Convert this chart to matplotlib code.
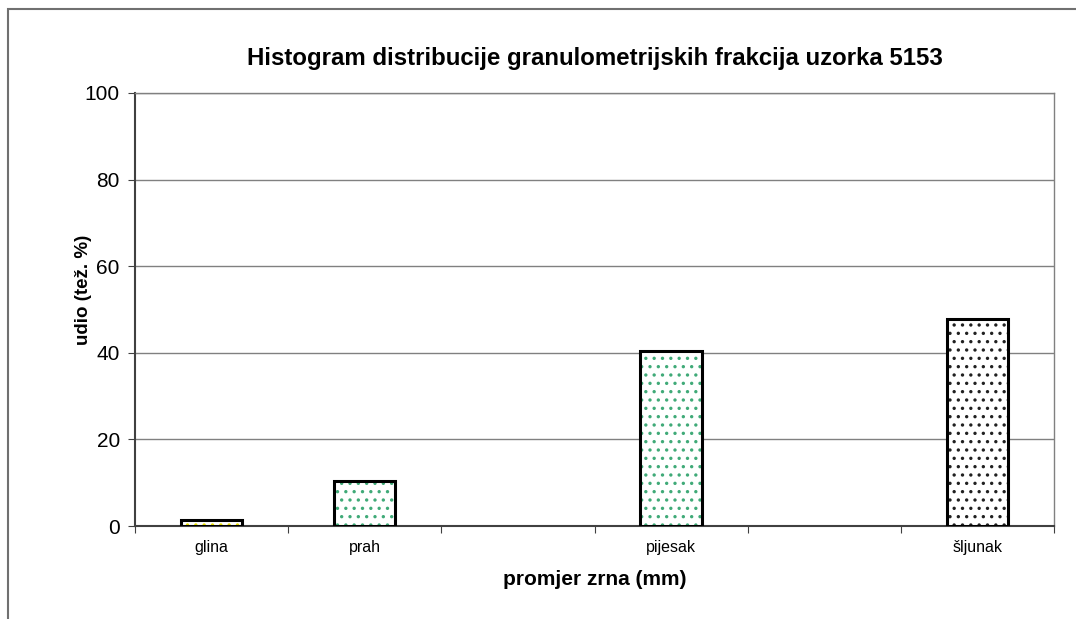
import matplotlib.pyplot as plt
from matplotlib.patches import Rectangle
import numpy as np

plt.rcParams['font.family'] = ['Liberation Sans', 'DejaVu Sans']
plt.rcParams['hatch.linewidth'] = 1.2

# categories (empty slots are blank columns in the original chart)
categories = ['glina', 'prah', '', 'pijesak', '', 'šljunak']
values = [1.5, 10.3, None, 40.5, None, 47.7]
dot_colors = ['#e8e000', '#40aa78', None, '#40aa78', None, '#202020']
yticks = [0, 20, 40, 60, 80, 100]

fig = plt.figure(figsize=(10.76, 6.19), dpi=100)
ax = fig.add_axes([0.1255, 0.1502, 0.8541, 0.6996])

x = np.arange(len(categories))
for xi, v, c in zip(x, values, dot_colors):
    if v is None:
        continue
    # dotted fill, then black outline on top
    ax.bar(xi, v, width=0.4, color='white', hatch='..', edgecolor=c, linewidth=0, zorder=3)
    ax.bar(xi, v, width=0.4, fill=False, edgecolor='black', linewidth=2.2, zorder=4)

ax.set_xlim(-0.5, len(categories) - 0.5)
ax.set_ylim(0, 100)
ax.set_yticks(yticks)
ax.yaxis.grid(True, color='#808080', linewidth=1)
ax.set_axisbelow(True)

ax.set_xticks(np.arange(-0.5, len(categories), 1))
ax.set_xticklabels([])
ax.set_xticks(x, minor=True)
ax.set_xticklabels(categories, minor=True, fontsize=11.5)
ax.tick_params(axis='x', which='minor', length=0, pad=10)
ax.tick_params(axis='x', which='major', length=5, color='#404040')
ax.tick_params(axis='y', length=5, labelsize=15, pad=6, color='#404040')

for s in ['top', 'right']:
    ax.spines[s].set_color('#808080')
    ax.spines[s].set_linewidth(1)
ax.spines['left'].set_color('#404040')
ax.spines['left'].set_linewidth(1.5)
ax.spines['bottom'].set_color('#404040')
ax.spines['bottom'].set_linewidth(1.5)

ax.set_title('Histogram distribucije granulometrijskih frakcija uzorka 5153',
             fontsize=17.3, fontweight='bold', pad=20)
ax.set_ylabel('udio (tež. %)', fontsize=13.5, fontweight='bold')
ax.yaxis.set_label_coords(-0.047, 0.545)
ax.set_xlabel('promjer zrna (mm)', fontsize=15, fontweight='bold', labelpad=11)

# outer chart frame (cut off at right and bottom)
fig.patches.append(Rectangle((8 / 1076, -0.1), 1.2, 1.1 - 9 / 619,
                             transform=fig.transFigure, fill=False,
                             edgecolor='#707070', linewidth=1.5))

fig.savefig('out.png', dpi=100)
